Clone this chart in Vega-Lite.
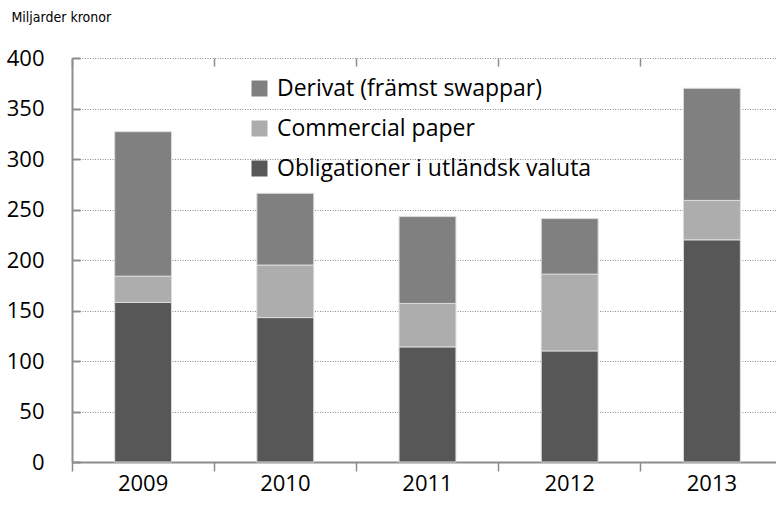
{
  "$schema": "https://vega.github.io/schema/vega-lite/v6.json",
  "width": 711,
  "height": 404,
  "autosize": {"type": "none"},
  "padding": {"left": 72, "top": 58, "right": 0, "bottom": 44},
  "background": "white",
  "config": {
    "view": {"stroke": null},
    "font": "Open Sans"
  },
  "data": {
    "values": [
      {"ar": "2009", "serie": "Obligationer i utländsk valuta", "rang": 1, "varde": 158},
      {"ar": "2009", "serie": "Commercial paper", "rang": 2, "varde": 26},
      {"ar": "2009", "serie": "Derivat (främst swappar)", "rang": 3, "varde": 143},
      {"ar": "2010", "serie": "Obligationer i utländsk valuta", "rang": 1, "varde": 143},
      {"ar": "2010", "serie": "Commercial paper", "rang": 2, "varde": 52},
      {"ar": "2010", "serie": "Derivat (främst swappar)", "rang": 3, "varde": 71},
      {"ar": "2011", "serie": "Obligationer i utländsk valuta", "rang": 1, "varde": 114},
      {"ar": "2011", "serie": "Commercial paper", "rang": 2, "varde": 43},
      {"ar": "2011", "serie": "Derivat (främst swappar)", "rang": 3, "varde": 86},
      {"ar": "2012", "serie": "Obligationer i utländsk valuta", "rang": 1, "varde": 110},
      {"ar": "2012", "serie": "Commercial paper", "rang": 2, "varde": 76},
      {"ar": "2012", "serie": "Derivat (främst swappar)", "rang": 3, "varde": 55},
      {"ar": "2013", "serie": "Obligationer i utländsk valuta", "rang": 1, "varde": 220},
      {"ar": "2013", "serie": "Commercial paper", "rang": 2, "varde": 39},
      {"ar": "2013", "serie": "Derivat (främst swappar)", "rang": 3, "varde": 111}
    ]
  },
  "resolve": {"axis": {"x": "independent"}},
  "layer": [
    {
      "mark": {"type": "bar", "stroke": "#dcdcdc", "strokeWidth": 1},
      "encoding": {
        "x": {
          "field": "ar",
          "type": "nominal",
          "scale": {"paddingInner": 0.6, "paddingOuter": 0.3},
          "axis": {
            "title": null,
            "bandPosition": -0.75,
            "labelAngle": 0,
            "labelFont": "Open Sans",
            "labelFontSize": 22,
            "labelColor": "#000000",
            "labelPadding": 2,
            "tickSize": 9,
            "tickColor": "#8c8c8c",
            "tickWidth": 1.5,
            "domainColor": "#8c8c8c",
            "domainWidth": 2,
            "grid": false
          }
        },
        "y": {
          "aggregate": "sum",
          "field": "varde",
          "type": "quantitative",
          "stack": "zero",
          "scale": {"domain": [0, 400], "nice": false},
          "axis": {
            "title": "Miljarder kronor",
            "titleAngle": 0,
            "titleX": -61,
            "titleY": -41,
            "titleAlign": "left",
            "titleBaseline": "middle",
            "titleFont": "DejaVu Sans Condensed, Roboto Condensed, Liberation Sans Narrow, Roboto",
            "titleFontSize": 14,
            "titleFontWeight": "normal",
            "titleColor": "#000000",
            "values": [0, 50, 100, 150, 200, 250, 300, 350, 400],
            "labelFont": "Open Sans",
            "labelFontSize": 22,
            "labelColor": "#000000",
            "labelPadding": 36,
            "tickSize": -8,
            "tickColor": "#8c8c8c",
            "tickWidth": 2,
            "domainColor": "#8c8c8c",
            "domainWidth": 2,
            "grid": true,
            "gridColor": "#8c8c8c",
            "gridDash": [1, 1.5],
            "gridWidth": 1
          }
        },
        "color": {
          "field": "serie",
          "type": "nominal",
          "scale": {
            "domain": ["Derivat (främst swappar)", "Commercial paper", "Obligationer i utländsk valuta"],
            "range": ["#808080", "#adadad", "#575757"]
          },
          "legend": {
            "title": null,
            "orient": "none",
            "legendX": 176,
            "legendY": 19,
            "symbolType": "square",
            "symbolSize": 256,
            "symbolStrokeWidth": 0,
            "labelFont": "Open Sans",
            "labelFontSize": 23,
            "labelColor": "#000000",
            "labelOffset": 6,
            "rowPadding": 16,
            "labelLimit": 500
          }
        },
        "order": {"field": "rang", "type": "quantitative", "sort": "ascending"}
      }
    },
    {
      "mark": {"type": "bar", "opacity": 0},
      "encoding": {
        "x": {
          "field": "ar",
          "type": "nominal",
          "axis": {
            "title": null,
            "bandPosition": -0.75,
            "labels": false,
            "domain": false,
            "tickSize": -8,
            "tickColor": "#8c8c8c",
            "tickWidth": 1.5,
            "grid": false
          }
        },
        "y": {"aggregate": "sum", "field": "varde", "type": "quantitative"}
      }
    }
  ]
}
